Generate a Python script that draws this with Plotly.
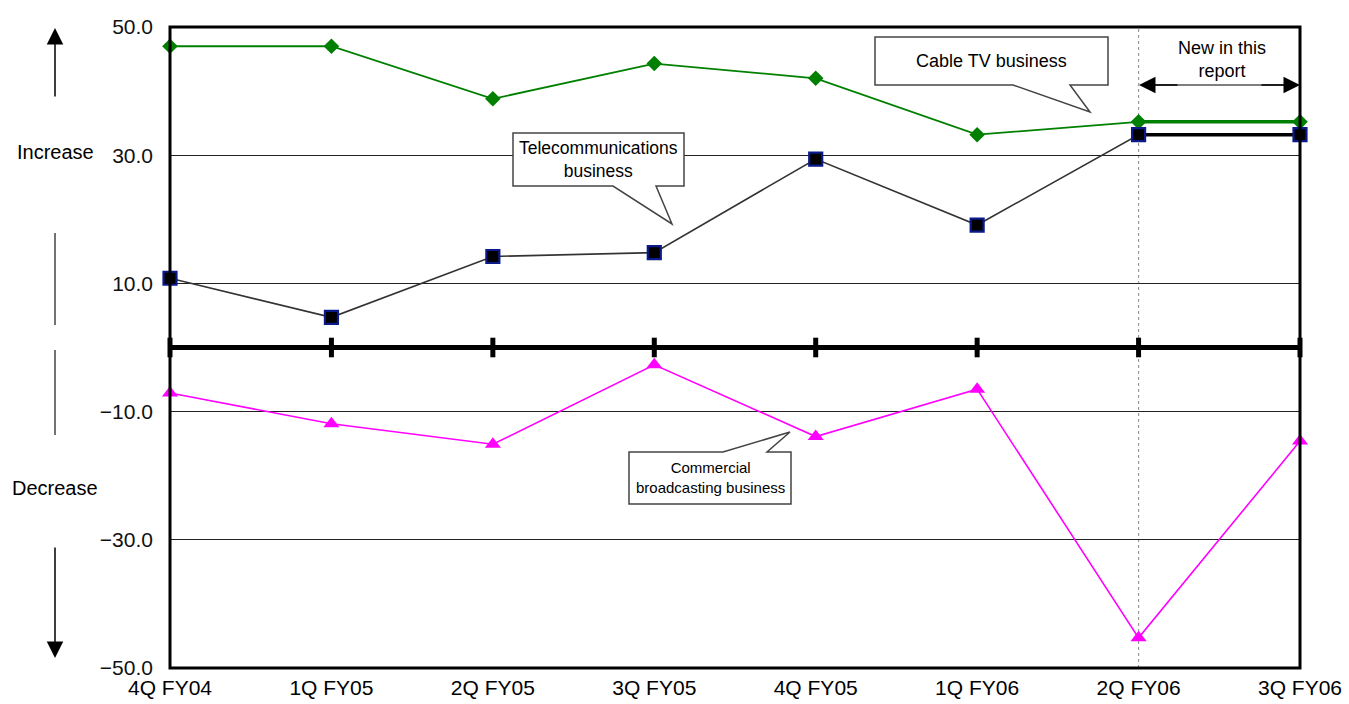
import plotly.graph_objects as go

# Quarter labels and year-on-year change (%) by business
quarters = ["4Q FY04", "1Q FY05", "2Q FY05", "3Q FY05", "4Q FY05", "1Q FY06", "2Q FY06", "3Q FY06"]
cable_tv = [47.0, 47.0, 38.8, 44.3, 42.0, 33.2, 35.2, 35.2]
telecom = [10.8, 4.7, 14.2, 14.8, 29.4, 19.1, 33.2, 33.2]
broadcasting = [-7.1, -11.9, -15.1, -2.7, -13.9, -6.5, -45.3, -14.6]
y_ticks = [50, 30, 10, -10, -30, -50]
y_tick_labels = ["50.0", "30.0", "10.0", "\u221210.0", "\u221230.0", "\u221250.0"]

W, H = 1349, 704
L, R, T, B = 170, 1300, 27, 668
FONT = "Arial, Liberation Sans, sans-serif"

xs = list(range(len(quarters)))


def px(x):
    return (x - L) / (R - L)


def py(y):
    return (B - y) / (B - T)


def path(points):
    return "M " + " L ".join(f"{px(a):.5f},{py(b):.5f}" for a, b in points) + " Z"


fig = go.Figure()

# zero line ticks at each quarter
fig.add_trace(go.Scatter(
    x=xs, y=[0] * len(xs), mode="markers", cliponaxis=False, hoverinfo="skip",
    marker=dict(symbol="line-ns", size=14, line=dict(color="black", width=5)),
))

fig.add_trace(go.Scatter(
    x=xs, y=cable_tv, mode="lines+markers", cliponaxis=False,
    line=dict(color="#008000", width=1.8),
    marker=dict(symbol="diamond", size=12, color="#008000"),
))
fig.add_trace(go.Scatter(
    x=xs[-2:], y=cable_tv[-2:], mode="lines", cliponaxis=False,
    line=dict(color="#008000", width=3.5),
))
fig.add_trace(go.Scatter(
    x=xs, y=telecom, mode="lines", cliponaxis=False,
    line=dict(color="#333333", width=1.6),
))
fig.add_trace(go.Scatter(
    x=xs[-2:], y=telecom[-2:], mode="lines", cliponaxis=False,
    line=dict(color="black", width=3.5),
))
fig.add_trace(go.Scatter(
    x=xs, y=telecom, mode="markers", cliponaxis=False,
    marker=dict(symbol="square", size=13, color="black", line=dict(color="#0a1a8a", width=2.2)),
))
fig.add_trace(go.Scatter(
    x=xs, y=broadcasting, mode="lines+markers", cliponaxis=False,
    line=dict(color="#ff00ff", width=1.6),
    marker=dict(symbol="triangle-up", size=14, color="#ff00ff"),
))

shapes = []
# dotted marker for the newly reported quarter
shapes.append(dict(type="line", xref="x", yref="paper", x0=6, x1=6, y0=0, y1=1,
                   line=dict(color="#9a9a9a", width=1.2, dash="dot"), layer="below"))
# zero axis
shapes.append(dict(type="line", xref="paper", yref="y", x0=0, x1=1, y0=0, y1=0,
                   line=dict(color="black", width=5)))
# plot frame
shapes.append(dict(type="rect", xref="paper", yref="paper", x0=0, x1=1, y0=0, y1=1,
                   line=dict(color="black", width=3)))

# callout boxes
callout_style = dict(type="path", xref="paper", yref="paper", fillcolor="white",
                     line=dict(color="#444444", width=1.5), layer="above")
shapes.append(dict(path=path([(875, 37), (1108, 37), (1108, 85), (1070, 85), (1090, 112),
                              (1013, 85), (875, 85)]), **callout_style))
shapes.append(dict(path=path([(513, 133), (684, 133), (684, 186), (656, 186), (672, 224),
                              (613, 186), (513, 186)]), **callout_style))
shapes.append(dict(path=path([(629, 452), (723, 452), (790, 432), (767, 452), (791, 452),
                              (791, 504), (629, 504)]), **callout_style))

# side guide lines
for y0, y1 in [(233, 325), (350, 435)]:
    shapes.append(dict(type="line", xref="paper", yref="paper", x0=px(55), x1=px(55),
                       y0=py(y0), y1=py(y1), line=dict(color="#444444", width=1.5)))
# span line for the new period
shapes.append(dict(type="line", xref="paper", yref="paper", x0=px(1155), x1=px(1285),
                   y0=py(85), y1=py(85), line=dict(color="#555555", width=1.5)))

annotations = [
    dict(text="Cable TV business", x=px(991), y=py(61), font=dict(size=18)),
    dict(text="Telecommunications<br>business", x=px(598), y=py(160), font=dict(size=17.5)),
    dict(text="Commercial<br>broadcasting business", x=px(710), y=py(478), font=dict(size=15)),
    dict(text="New in this<br>report", x=px(1222), y=py(59), font=dict(size=18)),
    dict(text="Increase", x=px(55), y=py(152), font=dict(size=20)),
    dict(text="Decrease", x=px(55), y=py(488), font=dict(size=20)),
]
for a in annotations:
    a.update(xref="paper", yref="paper", showarrow=False, align="center",
             xanchor="center", yanchor="middle")
    a["font"].update(family=FONT, color="black")

# arrows: span of the new period and the increase/decrease directions
arrows = [
    dict(x=px(1139), y=py(85), ax=40, ay=0),
    dict(x=px(1300), y=py(85), ax=-40, ay=0),
    dict(x=px(55), y=py(28), ax=0, ay=70),
    dict(x=px(55), y=py(658), ax=0, ay=-112),
]
for a in arrows:
    annotations.append(dict(xref="paper", yref="paper", text="", showarrow=True,
                            arrowhead=2, arrowsize=2.2, arrowwidth=1.5, arrowcolor="black",
                            **a))

fig.update_layout(
    width=W, height=H,
    margin=dict(l=L, r=W - R, t=T, b=H - B, autoexpand=False),
    plot_bgcolor="white", paper_bgcolor="white",
    showlegend=False,
    font=dict(family=FONT, color="black"),
    xaxis=dict(range=[0, 7], tickvals=xs, ticktext=quarters, showgrid=False, zeroline=False,
               showline=False, ticks="", tickfont=dict(size=21, color="black"),
               ticklabelstandoff=5, automargin=False),
    yaxis=dict(range=[-50, 50], tickvals=y_ticks, ticktext=y_tick_labels, showgrid=True,
               gridcolor="#222222", gridwidth=1, zeroline=False, showline=False, ticks="",
               tickfont=dict(size=21, color="#111111"), ticklabelstandoff=16,
               automargin=False),
    shapes=shapes,
    annotations=annotations,
)

fig.write_html("out.html")
